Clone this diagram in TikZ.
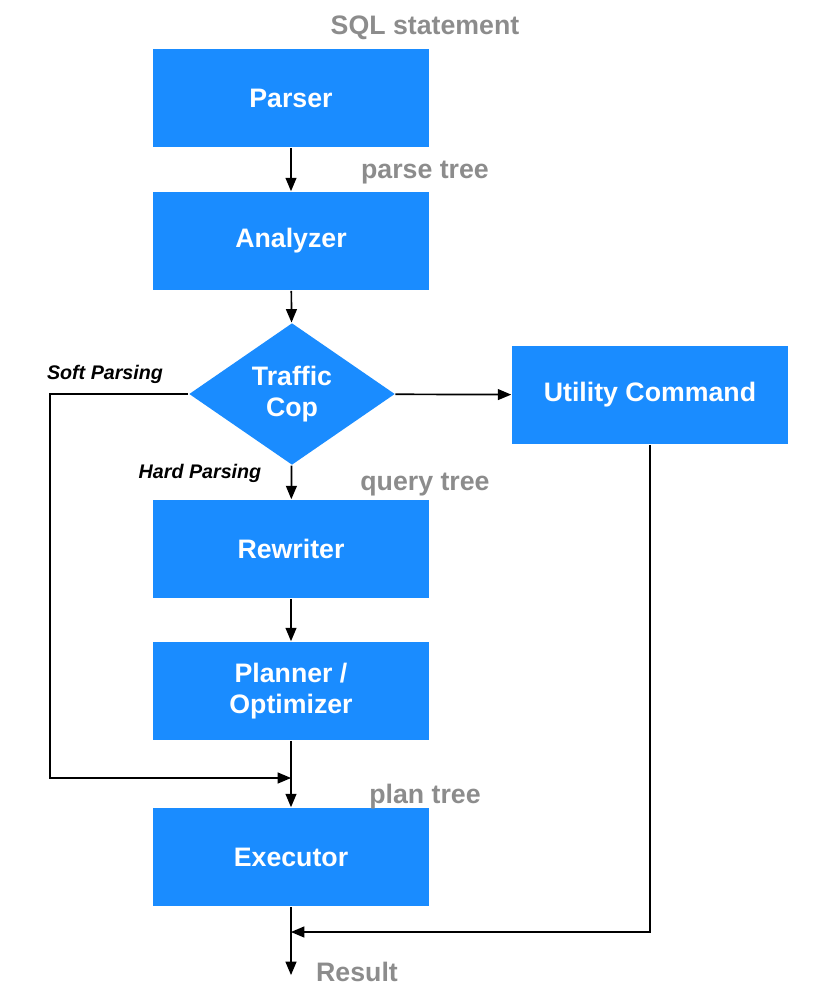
\documentclass[tikz,border=0pt]{standalone}
\usepackage{fontspec}
\setmainfont{Liberation Sans}
\usetikzlibrary{arrows,shapes.geometric}
\definecolor{boxblue}{HTML}{1A8CFF}
\definecolor{labelgray}{HTML}{8C8C8C}
\begin{document}
\begin{tikzpicture}[x=0.025cm,y=-0.025cm,>=triangle 45,very thick,
				stage/.style={rectangle,fill=boxblue,text=white,minimum width=6.9cm,
					minimum height=2.45cm,font=\fontsize{19}{22}\selectfont\bfseries,align=center},
				tag/.style={text=labelgray,font=\fontsize{19}{22}\selectfont\bfseries},
				path tag/.style={font=\fontsize{14}{16}\selectfont\bfseries\itshape}]
				\useasboundingbox (0,0) rectangle (812,1004);
				
				\node[stage] (P) at (291,98) {Parser};
				\node[stage] (A) at (291,241) {Analyzer};
				\node[diamond,fill=boxblue,text=white,minimum width=5.15cm,minimum height=3.55cm,
					aspect=1.45,inner sep=0pt,font=\fontsize{19}{22}\selectfont\bfseries,align=center]
					(T) at (292,394) {Traffic\\Cop};
				\node[stage,minimum width=6.9cm] (U) at (650,395) {Utility Command};
				\node[stage] (R) at (291,549) {Rewriter};
				\node[stage] (O) at (291,691) {Planner /\\Optimizer};
				\node[stage] (E) at (291,857) {Executor};
				
				\node[tag] (sql) at (425,28) {SQL statement};
				\node[tag] (pt) at (425,173) {parse tree};
				\node[tag] (qt) at (425,485) {query tree};
				\node[tag] (plt) at (425,797) {plan tree};
				\node[tag] (res) at (357,972) {Result};
				\node[path tag] (soft) at (105,374) {Soft Parsing};
				\node[path tag] (hard) at (200,473) {Hard Parsing};
				
				\coordinate (join) at (291,778);
				\coordinate (back) at (291,932);
				\coordinate (out) at (291,975);
				
				\draw[->] (P) -- (A);
				\draw[->] (A) -- (T);
				\draw[->] (T) -- (U);
				\draw[->] (T) -- (R);
				\draw[->] (R) -- (O);
				\draw[->] (O) -- (E);
				\draw[->] (T.west) -- (50,394) -- (50,778) -- (join);
				\draw[->] (U.south) -- (650,932) -- (back);
				\draw[->] (E) -- (out);
			\end{tikzpicture}
\end{document}
